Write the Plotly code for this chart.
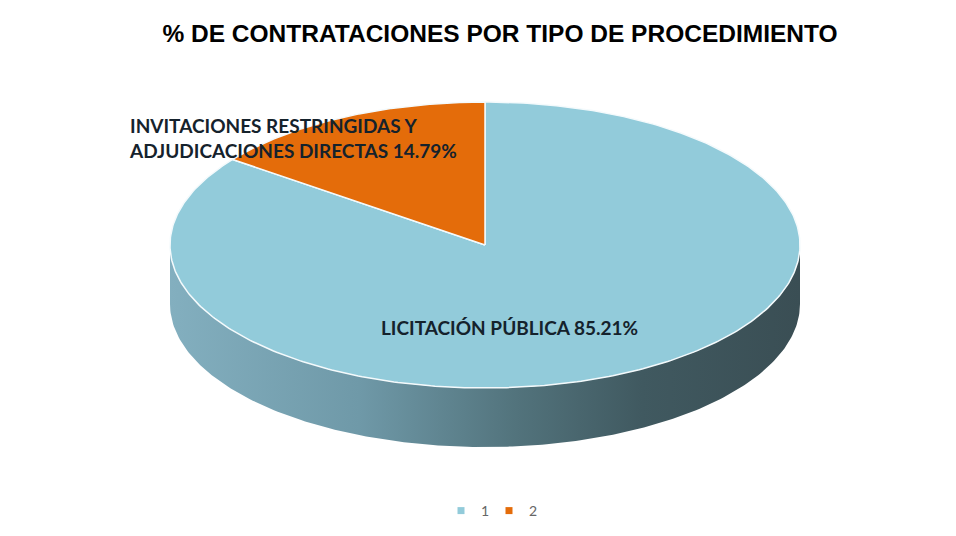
import numpy as np
import plotly.graph_objects as go

# ---- data ----
categories = ["LICITACIÓN PÚBLICA", "INVITACIONES RESTRINGIDAS Y<br>ADJUDICACIONES DIRECTAS"]
values = [85.21, 14.79]
legend_labels = ["1", "2"]
colors = ["#92CBDA", "#E46C0A"]
title_text = "% DE CONTRATACIONES POR TIPO DE PROCEDIMIENTO"

# ---- geometry (pixel space layout) ----
W, H = 956, 536
cx, cy = 485, 245
rx, ry = 315, 143
depth = 59
start_deg = 90.0

fracs = np.array(values) / np.sum(values)
cum = np.concatenate([[0], np.cumsum(fracs)])

fig = go.Figure()

side_scale = [[0.0, "#83AFBF"], [0.3, "#6F99A8"], [0.55, "#52737C"],
              [0.75, "#405960"], [1.0, "#3A4E54"]]

# sides (front visible part: angles 180..360)
for i in range(len(values)):
    a0 = start_deg - 360 * cum[i + 1]  # clockwise: end angle is smaller
    a1 = start_deg - 360 * cum[i]
    segs = []
    for shift in (-720, -360, 0, 360):
        lo = max(a0 + shift, 180)
        hi = min(a1 + shift, 360)
        if hi > lo:
            segs.append((lo, hi))
    for lo, hi in segs:
        t = np.radians(np.linspace(lo, hi, 200))
        xt = cx + rx * np.cos(t)
        yt = cy - ry * np.sin(t)
        xs = np.concatenate([xt, xt[::-1], xt[:1]])
        ys = np.concatenate([yt, (yt + depth)[::-1], yt[:1]])
        fig.add_trace(go.Scatter(
            x=xs, y=ys, mode="lines", fill="toself",
            line=dict(width=0, color="rgba(0,0,0,0)"),
            fillgradient=dict(type="horizontal", colorscale=side_scale),
            hoverinfo="skip", showlegend=False))

# top faces
for i in range(len(values)):
    a_start = start_deg - 360 * cum[i]
    a_end = start_deg - 360 * cum[i + 1]
    t = np.radians(np.linspace(a_start, a_end, 400))
    xs = np.concatenate([[cx], cx + rx * np.cos(t), [cx]])
    ys = np.concatenate([[cy], cy - ry * np.sin(t), [cy]])
    fig.add_trace(go.Scatter(
        x=xs, y=ys, mode="lines", fill="toself", fillcolor=colors[i],
        line=dict(width=1.5, color="#F4FAFC"),
        hoverinfo="skip", showlegend=False))

# legend entries
for i in range(len(values)):
    fig.add_trace(go.Scatter(
        x=[None], y=[None], mode="markers", name=legend_labels[i],
        marker=dict(symbol="square", size=7, color=colors[i]),
        hoverinfo="skip", showlegend=True))

# labels
label_font = dict(family="Lato", size=19, color="#15222C")
fig.add_annotation(x=509, y=327, xref="x", yref="y",
                   text=f"<b>{categories[0]} {values[0]:.2f}%</b>",
                   showarrow=False, font=label_font, xanchor="center", yanchor="middle")
fig.add_annotation(x=127, y=138, xref="x", yref="y",
                   text=f"<b>{categories[1]} {values[1]:.2f}%</b>",
                   showarrow=False, font=label_font, xanchor="left", yanchor="middle",
                   align="left")

fig.update_layout(
    width=W, height=H,
    margin=dict(l=0, r=0, t=0, b=0),
    paper_bgcolor="white", plot_bgcolor="white",
    title=dict(text=f"<b>{title_text}</b>", x=500 / W, xanchor="center",
               y=1 - 33 / H, yanchor="middle",
               font=dict(family="Liberation Sans", size=24.5, color="#000000")),
    xaxis=dict(range=[0, W], visible=False, fixedrange=True),
    yaxis=dict(range=[H, 0], visible=False, fixedrange=True),
    legend=dict(orientation="h", x=(463 - 22) / W, xanchor="left", y=1 - 511 / H,
                yanchor="middle", font=dict(family="Lato", size=14, color="#666666"),
                itemwidth=30, entrywidth=3, entrywidthmode="pixels", tracegroupgap=0),
    showlegend=True,
)

fig.write_html("out.html", config=dict(displayModeBar=False),
               post_script="document.body.style.margin='0';")
